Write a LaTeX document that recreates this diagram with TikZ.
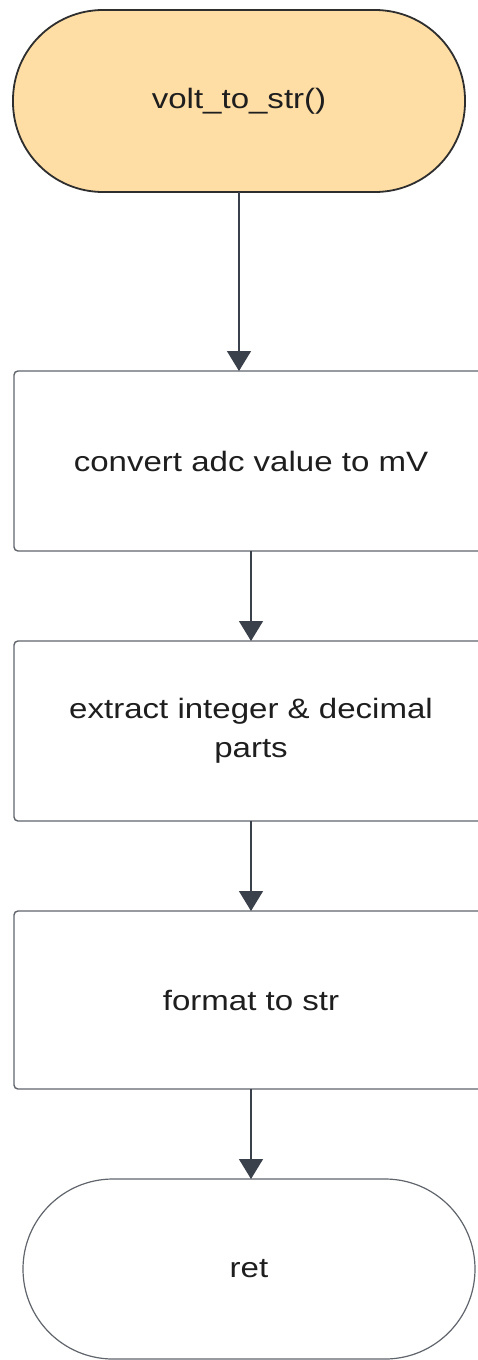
\documentclass[tikz,border=0pt]{standalone}
\usepackage{fontspec}
\setmainfont{Liberation Sans}[FakeStretch=1.18]
\usetikzlibrary{arrows.meta}
\definecolor{startfill}{HTML}{FFDEA6}
\definecolor{startline}{HTML}{2E2E2E}
\definecolor{boxline}{HTML}{60646B}
\definecolor{arrowcol}{HTML}{3B414B}
\definecolor{txt}{HTML}{1E1E1E}
\tikzset{
  base/.style={text=txt, align=center, inner sep=0pt, outer sep=0pt,
    font=\fontsize{28}{39}\selectfont},
  terminal/.style={base, rounded corners=90pt, minimum width=452pt},
  stepbox/.style={base, draw=boxline, line width=1.4pt, rounded corners=4pt,
    minimum width=474pt},
  flow/.style={draw=arrowcol, line width=1.4pt,
    -{Triangle[width=24pt,length=20pt]}}
}
\begin{document}
\begin{tikzpicture}[x=1pt,y=-1pt]
\useasboundingbox (0,0) rectangle (478,1360);
\clip (0,0) rectangle (478,1360);
\fill[white] (0,0) rectangle (478,1360);

\node[terminal, draw=startline, fill=startfill, line width=1.8pt,
  minimum height=182pt] (start) at (239,101) {volt\_to\_str()};
\node[stepbox, minimum height=180pt] (conv) at (251,461) {convert adc value to mV};
\node[stepbox, minimum height=180pt] (split) at (251,731) {extract integer \& decimal\\parts};
\node[stepbox, minimum height=178pt] (fmt) at (251,1000) {format to str};
\node[terminal, draw=boxline, line width=1.2pt, minimum height=180pt]
  (ret) at (249,1269) {ret};

\draw[flow] (start.south) -- (start.south |- conv.north);
\draw[flow] (conv.south) -- (split.north);
\draw[flow] (split.south) -- (fmt.north);
\draw[flow] (fmt.south) -- (fmt.south |- ret.north);
\end{tikzpicture}
\end{document}
